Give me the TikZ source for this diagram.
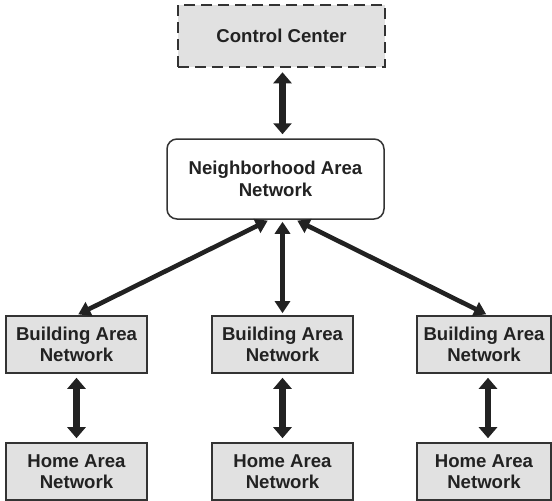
\documentclass[tikz,border=0pt]{standalone}
\usepackage{fontspec}
\setmainfont{Liberation Sans}
\usetikzlibrary{arrows.meta}
\definecolor{boxgray}{HTML}{E1E1E1}
\definecolor{edge}{HTML}{333333}
\definecolor{ink}{HTML}{222222}
\begin{document}
\begin{tikzpicture}[x=1pt,y=-1pt,
  every node/.style={font=\bfseries\fontsize{18.6}{21.5}\selectfont, text=ink, align=center, inner sep=0pt},
  areabox/.style={draw=edge, line width=1.6pt, fill=boxgray, minimum width=141pt, minimum height=57pt},
  ctrlbox/.style={draw=edge, line width=2.6pt, fill=boxgray, dash pattern=on 11pt off 6pt, minimum width=207pt, minimum height=62pt},
  nanbox/.style={draw=edge, line width=1.5pt, fill=white, rounded corners=10pt, minimum width=217pt, minimum height=80pt},
  biglink/.style={draw=ink, line width=6.5pt, {Triangle[width=18pt,length=11pt]}-{Triangle[width=18pt,length=11pt]}, shorten <=4pt, shorten >=4pt},
  thinlink/.style={draw=ink, line width=4.6pt, {Triangle[width=15pt,length=12pt]}-{Triangle[width=15pt,length=12pt]}, shorten <=2pt, shorten >=2pt}
]
\useasboundingbox (0,0) rectangle (552,501);

% top level
\node[ctrlbox] (cc) at (281.5,36) {Control Center};
\node[nanbox] (nan) at (275.5,179) {Neighborhood Area\\Network};

% building area networks
\node[areabox] (ban1) at (76.5,344.5) {Building Area\\Network};
\node[areabox] (ban2) at (282.5,344.5) {Building Area\\Network};
\node[areabox, minimum width=134pt] (ban3) at (484,344.5) {Building Area\\Network};

% home area networks
\node[areabox] (han1) at (76.5,471.5) {Home Area\\Network};
\node[areabox] (han2) at (282.5,471.5) {Home Area\\Network};
\node[areabox, minimum width=134pt] (han3) at (484,471.5) {Home Area\\Network};

\coordinate (nanL) at ([xshift=-13pt]nan.south -| ban2);
\coordinate (nanR) at ([xshift=13pt]nan.south -| ban2);

% links
\draw[biglink] (cc.south -| ban2) -- (nan.north -| ban2);
\draw[thinlink] (nanL) -- (ban1.north);
\draw[thinlink] (nan.south -| ban2) -- (ban2.north);
\draw[thinlink] (nanR) -- ([xshift=4pt]ban3.north);

\draw[biglink] (ban1.south) -- (han1.north);
\draw[biglink] (ban2.south) -- (han2.north);
\draw[biglink] ([xshift=4pt]ban3.south) -- ([xshift=4pt]han3.north);
\end{tikzpicture}
\end{document}
